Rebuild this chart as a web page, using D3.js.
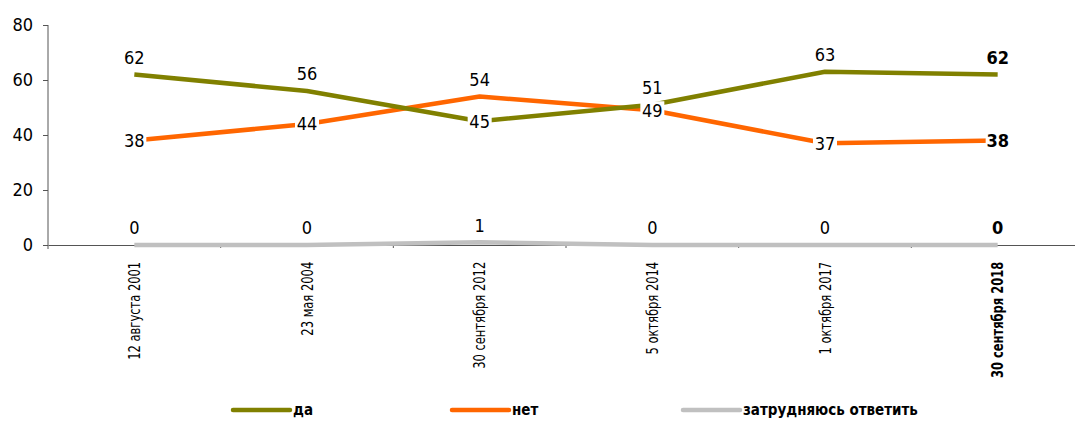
<!DOCTYPE html>
<html>
<head>
<meta charset="utf-8">
<script src="https://cdn.jsdelivr.net/npm/d3@7"></script>
<style>
  html, body { margin: 0; padding: 0; background: #fff; }
  svg text { font-family: "Liberation Sans Narrow", "DejaVu Sans Condensed", sans-serif; fill: #000; }
</style>
</head>
<body>
<div id="chart"></div>
<script>
// Survey results by date
const dates = ["12 августа 2001", "23 мая 2004", "30 сентября 2012", "5 октября 2014", "1 октября 2017", "30 сентября 2018"]
const yes = [62, 56, 45, 51, 63, 62]
const no = [38, 44, 54, 49, 37, 38]
const unsure = [0, 0, 1, 0, 0, 0]
const yTicks = [0, 20, 40, 60, 80]

// label placement per point: "above" or "center"
const yesPos = ["above", "above", "center", "above", "above", "above"]
const noPos = ["center", "center", "above", "center", "center", "center"]
const unsurePos = ["above", "above", "above", "above", "above", "above"]

const series = [
  { name: "да", values: yes, pos: yesPos, color: "#808000" },
  { name: "нет", values: no, pos: noPos, color: "#ff6600" },
  { name: "затрудняюсь ответить", values: unsure, pos: unsurePos, color: "#c0c0c0" }
]

const width = 1075
const height = 421
const margin = { top: 25, left: 48, bottom: 176 }

const svg = d3.select("#chart")
  .append("svg")
  .attr("width", width)
  .attr("height", height)

const x = d3.scaleBand()
  .domain(dates)
  .range([margin.left, 1084])

const y = d3.scaleLinear()
  .domain([0, 80])
  .range([height - margin.bottom, margin.top])

const cx = d => x(d) + x.bandwidth() / 2
const last = dates[dates.length - 1]

// Y axis
const yAxis = svg.append("g")
  .attr("transform", `translate(${margin.left},0)`)
  .call(d3.axisLeft(y).tickValues(yTicks).tickSize(5).tickPadding(10))
yAxis.select(".domain").attr("d", `M0,${y(80)}V${y(0) + 4}`).attr("stroke", "#555")
yAxis.selectAll(".tick line").attr("stroke", "#555")
yAxis.selectAll(".tick text").style("font-size", "18px")

// X axis
const xAxis = svg.append("g")
  .attr("transform", `translate(0,${y(0)})`)
  .call(d3.axisBottom(x).tickSize(0).tickPadding(0))
xAxis.select(".domain").attr("stroke", "#555")
xAxis.selectAll(".tick text")
  .attr("transform", "rotate(-90) scale(0.8,1)")
  .attr("text-anchor", "end")
  .attr("x", -21)
  .attr("y", 0)
  .attr("dy", "0.35em")
  .style("font-size", "16px")
  .style("font-weight", d => d === last ? "bold" : "normal")

// small boundary ticks
svg.append("g")
  .selectAll("line")
  .data(dates.slice(1))
  .join("line")
  .attr("x1", d => x(d))
  .attr("x2", d => x(d))
  .attr("y1", y(0))
  .attr("y2", y(0) + 3)
  .attr("stroke", "#555")

const line = d3.line()
  .x((v, i) => cx(dates[i]))
  .y(v => y(v))

// Lines, drawn bottom-up so gray lies under
series.slice().reverse().forEach(s => {
  svg.append("path")
    .datum(s.values)
    .attr("fill", "none")
    .attr("stroke", s.color)
    .attr("stroke-width", 4.5)
    .attr("stroke-linejoin", "round")
    .attr("d", line)
})

// Data labels
series.forEach(s => {
  const g = svg.append("g")
  s.values.forEach((v, i) => {
    const px = cx(dates[i])
    const py = s.pos[i] === "center" ? y(v) : y(v) - 17
    const bold = dates[i] === last
    const lab = g.append("g").attr("transform", `translate(${px},${py})`)
    if (s.pos[i] === "center") {
      lab.append("rect")
        .attr("x", -12).attr("y", -9)
        .attr("width", 24).attr("height", 18)
        .attr("fill", "#fff")
    }
    lab.append("text")
      .attr("text-anchor", "middle")
      .attr("dy", "0.35em")
      .style("font-size", "18px")
      .style("font-weight", bold ? "bold" : "normal")
      .text(v)
  })
})

// Legend
const legendX = [233, 452, 683]
const legend = svg.append("g").attr("transform", "translate(0,410)")
series.forEach((s, i) => {
  legend.append("line")
    .attr("x1", legendX[i]).attr("x2", legendX[i] + 57)
    .attr("y1", 0).attr("y2", 0)
    .attr("stroke", s.color)
    .attr("stroke-width", 4.5)
    .attr("stroke-linecap", "round")
  legend.append("text")
    .attr("x", legendX[i] + 60)
    .attr("dy", "0.35em")
    .style("font-size", "15px")
    .style("font-weight", "bold")
    .text(s.name)
})
</script>
</body>
</html>
